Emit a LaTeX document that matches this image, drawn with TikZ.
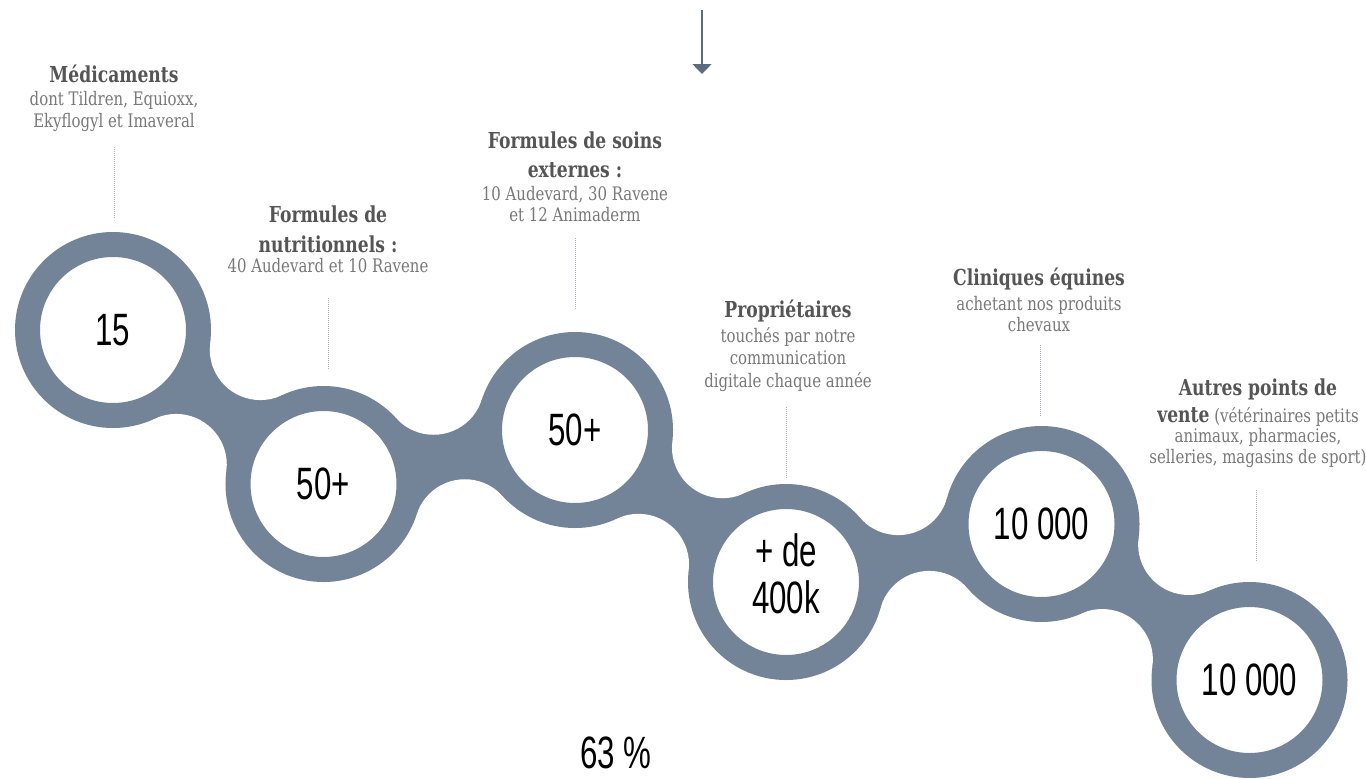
\documentclass[tikz,border=0pt]{standalone}
\usepackage{fontspec}
\usetikzlibrary{calc,arrows.meta}
\setmainfont{DejaVu Serif}[FakeStretch=0.76]
\newfontfamily\headfont{DejaVu Serif}[FakeStretch=0.78]
\newfontfamily\subfont{DejaVu Serif}[FakeStretch=0.8]
\newfontfamily\numfont{Liberation Sans}[FakeStretch=0.69]
\definecolor{ringc}{HTML}{748498}
\definecolor{headc}{HTML}{555555}
\definecolor{subc}{HTML}{787878}
\definecolor{dotc}{HTML}{A9B3C2}
\definecolor{arrc}{HTML}{5E6B7E}
\def\ringR{73.5pt}
\def\filR{38pt}
\newcommand\neck[3]{%
  \path let \p1=(#1), \p2=(#2),
    \n1={veclen(\x2-\x1,\y2-\y1)/20},
    \n2={10*sqrt(((\ringR+\filR)/10)^2-(\n1)^2)} in
    ($(#3)!\n2!90:(#2)$) coordinate (fa)
    ($(#3)!\n2!-90:(#2)$) coordinate (fb);
  \fill[ringc] (#1) -- ($(#1)!\ringR!(fa)$) -- ($(#2)!\ringR!(fa)$) -- (#2)
    -- ($(#2)!\ringR!(fb)$) -- ($(#1)!\ringR!(fb)$) -- cycle;
  \fill[white] (fa) circle[radius=\filR] (fb) circle[radius=\filR];
}
\tikzset{
  ring/.style={circle, draw=ringc, line width=18.75pt, fill=white,
    minimum size=128.25pt, inner sep=0pt, outer sep=0pt,
    font=\numfont\fontsize{34pt}{34pt}\selectfont, text=black},
  numtext/.style={inner sep=0pt, align=center,
    font=\numfont\fontsize{34pt}{34pt}\selectfont, text=black},
  head/.style={anchor=base, inner sep=0pt,
    font=\headfont\bfseries\fontsize{16.5pt}{20pt}\selectfont, text=headc},
  sub/.style={anchor=base, inner sep=0pt,
    font=\subfont\fontsize{14pt}{16pt}\selectfont, text=subc},
  dotline/.style={draw=dotc, line width=0.75pt, dash pattern=on 0.75pt off 0.75pt},
  toparrow/.style={draw=arrc, line width=1.1pt,
    -{Triangle[width=14.25pt,length=7.5pt]}}
}
\begin{document}
\begin{tikzpicture}[x=0.75pt,y=-0.75pt]
\useasboundingbox (0,0) rectangle (1366,778);
\fill[white] (0,0) rectangle (1366,778);

% ring centres
\coordinate (p1) at (113,330);
\coordinate (p2) at (323.5,484);
\coordinate (p3) at (575,430);
\coordinate (p4) at (786,582);
\coordinate (p5) at (1041.5,524);
\coordinate (p6) at (1249.5,680);
\coordinate (m12) at ($(p1)!0.5!(p2)$);
\coordinate (m23) at ($(p2)!0.5!(p3)$);
\coordinate (m34) at ($(p3)!0.5!(p4)$);
\coordinate (m45) at ($(p4)!0.5!(p5)$);
\coordinate (m56) at ($(p5)!0.5!(p6)$);

% necks
\neck{p1}{p2}{m12}
\neck{p2}{p3}{m23}
\neck{p3}{p4}{m34}
\neck{p4}{p5}{m45}
\neck{p5}{p6}{m56}

% rings
\node[ring] (c1) at (p1) {15};
\node[ring] (c2) at (p2) {50+};
\node[ring] (c3) at (p3) {50+};
\node[ring] (c4) at (p4) {};
\node[numtext] (t4) at (786,574) {+ de\\[1pt]400k};
\node[ring] (c5) at (p5) {10 000};
\node[ring] (c6) at (p6) {10 000};

% bottom value
\node[numtext] (pct) at (616,753) {63 \%};

% top arrow
\coordinate (a0) at (702,10);
\coordinate (a1) at (702,74);
\draw[toparrow] (a0) -- (a1);

% dotted leaders
\coordinate (d1a) at (114,147);  \coordinate (d1b) at (114,218);
\coordinate (d2a) at (328,298);  \coordinate (d2b) at (328,370);
\coordinate (d3a) at (575,238);  \coordinate (d3b) at (575,310);
\coordinate (d4a) at (786,407);  \coordinate (d4b) at (786,478);
\coordinate (d5a) at (1040,345); \coordinate (d5b) at (1040,417);
\coordinate (d6a) at (1256,490); \coordinate (d6b) at (1256,562);
\draw[dotline] (d1a) -- (d1b);
\draw[dotline] (d2a) -- (d2b);
\draw[dotline] (d3a) -- (d3b);
\draw[dotline] (d4a) -- (d4b);
\draw[dotline] (d5a) -- (d5b);
\draw[dotline] (d6a) -- (d6b);

% labels
\node[head] (l1a) at (114,82) {Médicaments};
\node[sub]  (l1b) at (114,105) {dont Tildren, Equioxx,};
\node[sub]  (l1c) at (114,127) {Ekyflogyl et Imaveral};

\node[head] (l2a) at (328,222) {Formules de};
\node[head] (l2b) at (328,252) {nutritionnels :};
\node[sub]  (l2c) at (328,272) {40 Audevard et 10 Ravene};

\node[head] (l3a) at (575,148) {Formules de soins};
\node[head] (l3b) at (575,177) {externes :};
\node[sub]  (l3c) at (575,200) {10 Audevard, 30 Ravene};
\node[sub]  (l3d) at (575,221) {et 12 Animaderm};

\node[head] (l4a) at (788,317) {Propriétaires};
\node[sub]  (l4b) at (788,342) {touchés par notre};
\node[sub]  (l4c) at (788,364) {communication};
\node[sub]  (l4d) at (788,387) {digitale chaque année};

\node[head] (l5a) at (1039,285) {Cliniques équines};
\node[sub]  (l5b) at (1039,310) {achetant nos produits};
\node[sub]  (l5c) at (1039,331) {chevaux};

\node[head] (l6a) at (1258,395) {Autres points de};
\node[sub]  (l6b) at (1258,422) {{\headfont\bfseries\fontsize{16.5pt}{20pt}\selectfont\color{headc}vente} (vétérinaires petits};
\node[sub]  (l6c) at (1258,442) {animaux, pharmacies,};
\node[sub]  (l6d) at (1258,463) {selleries, magasins de sport)};
\end{tikzpicture}
\end{document}
